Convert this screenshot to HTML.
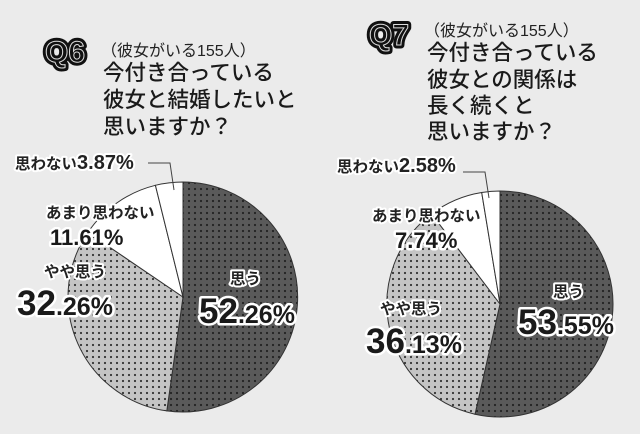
<!DOCTYPE html>
<html><head><meta charset="utf-8"><style>
html,body{margin:0;padding:0;background:#ebebeb;}
svg{display:block}
text{font-family:"Liberation Sans","Noto Sans CJK JP",sans-serif;}
.t{font-size:21.5px;fill:#1a1a1a;font-weight:500;}
.p{font-size:16px;fill:#222;}
.lb{font-size:15.5px;font-weight:bold;fill:#222;stroke:#fff;stroke-width:4px;paint-order:stroke;stroke-linejoin:round;}
.nb{font-weight:bold;fill:#1a1a1a;stroke:#fff;stroke-width:5px;paint-order:stroke;stroke-linejoin:round;}
.q{font-size:30px;font-weight:bold;fill:#111;stroke:#111;stroke-width:7px;paint-order:stroke;stroke-linejoin:round;}
.qi{font-size:30px;font-weight:bold;fill:none;stroke:#ddd;stroke-width:1px;}
</style></head><body>
<svg width="640" height="434" viewBox="0 0 640 434" xmlns="http://www.w3.org/2000/svg">
<defs>
<pattern id="dk" width="6" height="6" patternUnits="userSpaceOnUse"><rect width="6" height="6" fill="#5a5a5a"/><circle cx="3" cy="3" r="1.1" fill="#222"/></pattern>
<pattern id="lt" width="6" height="6" patternUnits="userSpaceOnUse"><rect width="6" height="6" fill="#c4c4c4"/><circle cx="3" cy="3" r="1.1" fill="#333"/></pattern>
</defs>
<rect width="640" height="434" fill="#ebebeb"/>

<g stroke="#333" stroke-width="1">
<path d="M183,297 L183,182 A115,115 0 1 1 166.8,410.9 Z" fill="url(#dk)"/>
<path d="M183,297 L166.8,410.9 A115,115 0 0 1 87.9,232.4 Z" fill="url(#lt)"/>
<path d="M183,297 L87.9,232.4 A115,115 0 0 1 155.4,185.3 Z" fill="#fff"/>
<path d="M183,297 L155.4,185.3 A115,115 0 0 1 183,182 Z" fill="#fff"/>
</g>
<polyline points="148,163 170,163 174,190" fill="none" stroke="#444" stroke-width="1"/>

<g stroke="#333" stroke-width="1">
<path d="M500,304 L500,191 A113,113 0 1 1 475,414.2 Z" fill="url(#dk)"/>
<path d="M500,304 L475,414.2 A113,113 0 0 1 431.6,213.9 Z" fill="url(#lt)"/>
<path d="M500,304 L431.6,213.9 A113,113 0 0 1 481.7,192.5 Z" fill="#fff"/>
<path d="M500,304 L481.7,192.5 A113,113 0 0 1 500,191 Z" fill="#fff"/>
</g>
<polyline points="463,172 485,172 489,198" fill="none" stroke="#444" stroke-width="1"/>

<text class="q" x="45" y="62">Q6</text>
<text class="qi" x="45" y="62">Q6</text>
<text class="p" x="101" y="56">（彼女がいる155人）</text>
<text class="t" x="103" y="80">今付き合っている</text>
<text class="t" x="103" y="107">彼女と結婚したいと</text>
<text class="t" x="103" y="134">思いますか？</text>

<text class="q" x="369" y="45">Q7</text>
<text class="qi" x="369" y="45">Q7</text>
<text class="p" x="424" y="36">（彼女がいる155人）</text>
<text class="t" x="427" y="60">今付き合っている</text>
<text class="t" x="427" y="87">彼女との関係は</text>
<text class="t" x="427" y="113">長く続くと</text>
<text class="t" x="427" y="139">思いますか？</text>

<text class="lb" x="15" y="169">思わない<tspan font-size="20">3.87%</tspan></text>
<text class="lb" x="46" y="218">あまり思わない</text>
<text class="nb" x="50" y="245" font-size="22">11.61%</text>
<text class="lb" x="44" y="277" font-size="18">やや思う</text>
<text class="nb" x="17" y="315" font-size="35">32<tspan font-size="25">.26%</tspan></text>
<text class="lb" x="230" y="284" font-size="20">思う</text>
<text class="nb" x="199" y="323" font-size="35">52<tspan font-size="25">.26%</tspan></text>

<text class="lb" x="337" y="172">思わない<tspan font-size="20">2.58%</tspan></text>
<text class="lb" x="372" y="221">あまり思わない</text>
<text class="nb" x="395" y="248" font-size="22">7.74%</text>
<text class="lb" x="380" y="314" font-size="18">やや思う</text>
<text class="nb" x="366" y="353" font-size="35">36<tspan font-size="25">.13%</tspan></text>
<text class="lb" x="553" y="297" font-size="20">思う</text>
<text class="nb" x="518" y="334" font-size="35">53<tspan font-size="25">.55%</tspan></text>
</svg>
</body></html>
